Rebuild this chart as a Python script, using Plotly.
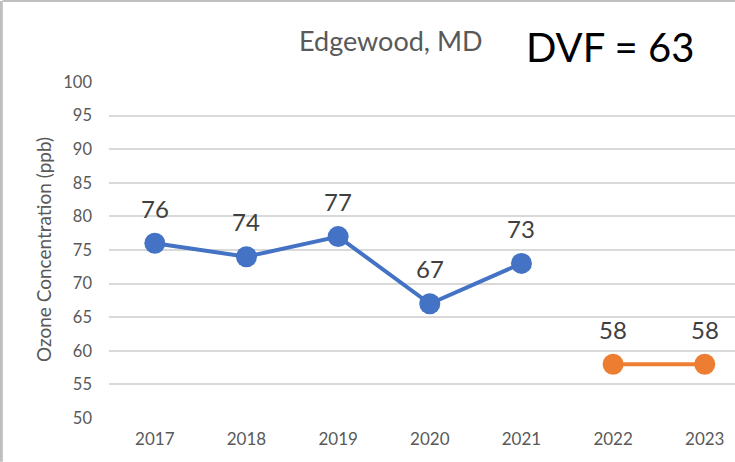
import plotly.graph_objects as go

years = ["2017", "2018", "2019", "2020", "2021", "2022", "2023"]
hist_years = ["2017", "2018", "2019", "2020", "2021"]
hist_vals = [76, 74, 77, 67, 73]
proj_years = ["2022", "2023"]
proj_vals = [58, 58]
y_ticks = [50, 55, 60, 65, 70, 75, 80, 85, 90, 95, 100]

BLUE = "#4472C4"
ORANGE = "#ED7D31"
FONT = "Lato, Carlito, 'Liberation Sans', sans-serif"

fig = go.Figure()
for xs, ys, col in ((hist_years, hist_vals, BLUE), (proj_years, proj_vals, ORANGE)):
    fig.add_trace(go.Scatter(
        x=xs, y=ys, mode="lines+markers",
        line=dict(color=col, width=4), marker=dict(color=col, size=21),
        showlegend=False, hoverinfo="skip"))
    for x, y in zip(xs, ys):
        fig.add_annotation(x=years.index(x), y=y, text=str(y), showarrow=False,
                           xanchor="center", yanchor="middle", yshift=35,
                           font=dict(size=24, color="#404040", family=FONT))

fig.add_annotation(xref="paper", yref="paper", x=0.45, y=1.0, yshift=42,
                   xanchor="center", yanchor="middle",
                   text="Edgewood, MD", showarrow=False,
                   font=dict(size=27, color="#595959", family=FONT))
fig.add_annotation(xref="paper", yref="paper", x=0.80, y=1.0, yshift=35,
                   xanchor="center", yanchor="middle",
                   text="DVF = 63", showarrow=False,
                   font=dict(size=40, color="#000000", family=FONT))
fig.add_annotation(xref="paper", yref="paper", x=0, xshift=-66, y=0.5,
                   xanchor="center", yanchor="middle",
                   text="Ozone Concentration (ppb)", showarrow=False, textangle=-90,
                   font=dict(size=19, color="#595959", family=FONT))

# frame borders
fig.add_shape(type="line", xref="paper", yref="paper", x0=-0.17, x1=1.0, y0=1.241, y1=1.241,
              line=dict(color="#BFBFBF", width=2))
fig.add_shape(type="line", xref="paper", yref="paper", x0=-0.172, x1=-0.172, y0=-0.13, y1=1.241,
              line=dict(color="#BFBFBF", width=3))

fig.update_layout(
    width=735, height=462,
    margin=dict(l=109, r=0, t=82, b=44),
    paper_bgcolor="white", plot_bgcolor="white",
    font=dict(family=FONT),
    xaxis=dict(type="category", categoryorder="array", categoryarray=years,
               range=[-0.5, 6.33], showgrid=False, zeroline=False, showline=False,
               ticks="", ticklabelstandoff=9,
               tickfont=dict(size=17, color="#595959", family=FONT)),
    yaxis=dict(range=[50, 100], tickvals=y_ticks, showgrid=True,
               gridcolor="#D9D9D9", gridwidth=1.5, zeroline=False, showline=False,
               ticks="", ticklabelstandoff=16,
               tickfont=dict(size=16.5, color="#595959", family=FONT)),
)

fig.write_html("out.html")
